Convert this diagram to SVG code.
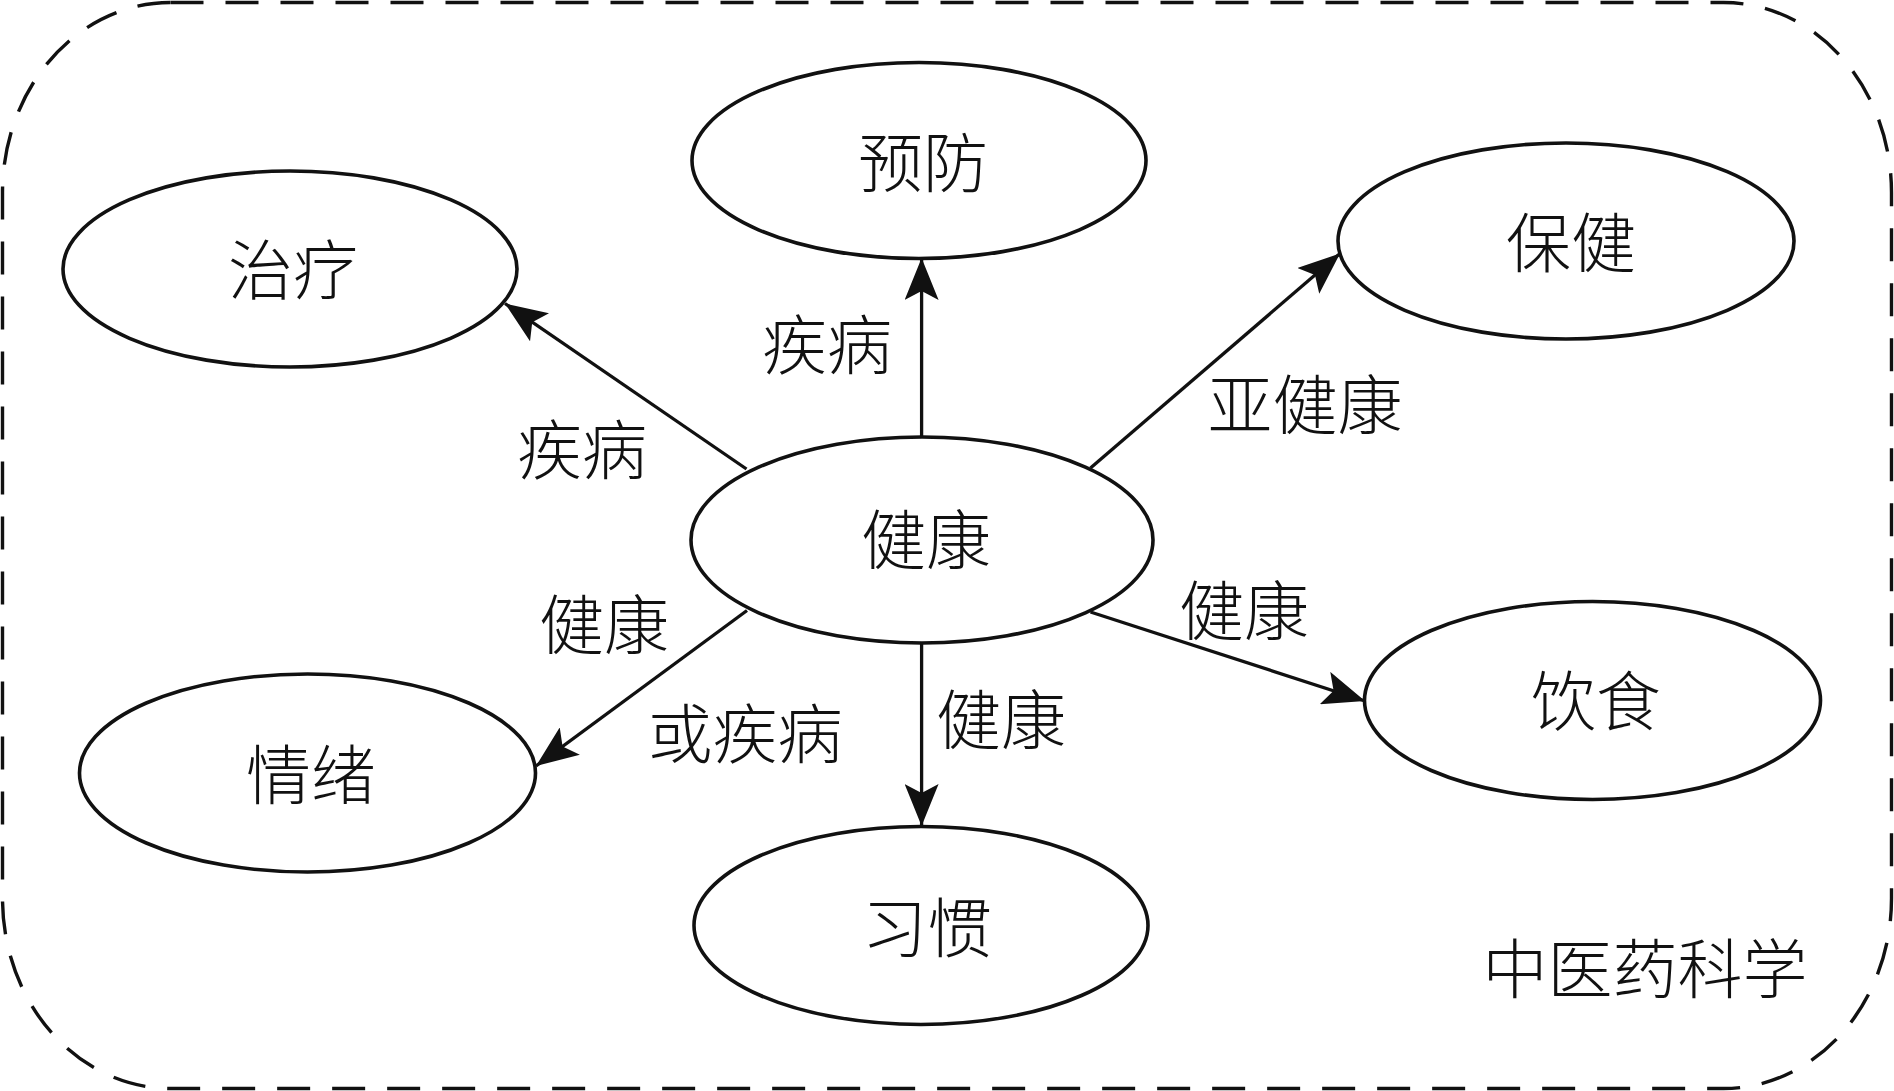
<svg xmlns="http://www.w3.org/2000/svg" width="1894" height="1091" viewBox="0 0 1894 1091">
<style>
.node{fill:#fff;stroke:#111;stroke-width:3.6}
.lbl{font-family:"Noto Sans CJK SC","Noto Sans CJK JP",sans-serif;font-size:65px;font-weight:300;fill:#111;text-anchor:middle}
.edge{stroke:#111;stroke-width:3.3;fill:none;marker-end:url(#arr)}
.frame{fill:none;stroke:#111;stroke-width:3.4;stroke-dasharray:33 22}
</style>
<defs>
<marker id="arr" markerUnits="userSpaceOnUse" viewBox="0 0 42 34" markerWidth="42" markerHeight="34" refX="42" refY="17" orient="auto">
<path d="M42,17 L0,0 L9,17 L0,34 Z" fill="#111"/>
</marker>
</defs>
<rect class="frame" x="2.5" y="2.5" width="1889" height="1086" rx="168" ry="190"/>
<g id="connectors">
<line class="edge" x1="921.6" y1="437" x2="921.6" y2="258"/>
<line class="edge" x1="746.5" y1="469" x2="505" y2="303.5"/>
<line class="edge" x1="1090.5" y1="468" x2="1340" y2="253.5"/>
<line class="edge" x1="1090.5" y1="612" x2="1365" y2="701"/>
<line class="edge" x1="747" y1="610.5" x2="536" y2="766"/>
<line class="edge" x1="921.6" y1="643" x2="921.6" y2="826"/>
<text class="lbl" x="827" y="369">疾病</text>
<text class="lbl" x="582" y="474">疾病</text>
<text class="lbl" x="1305" y="429">亚健康</text>
<text class="lbl" x="1244" y="635">健康</text>
<text class="lbl" x="604" y="649">健康</text>
<text class="lbl" x="745" y="758">或疾病</text>
<text class="lbl" x="1001" y="744">健康</text>
</g>
<g id="node-yufang"><ellipse class="node" cx="919" cy="160.5" rx="227" ry="98"/><text class="lbl" x="923" y="187">预防</text></g>
<g id="node-zhiliao"><ellipse class="node" cx="290" cy="269" rx="227" ry="98"/><text class="lbl" x="293" y="294">治疗</text></g>
<g id="node-baojian"><ellipse class="node" cx="1566" cy="241" rx="228" ry="98"/><text class="lbl" x="1571" y="267">保健</text></g>
<g id="node-jiankang"><ellipse class="node" cx="922" cy="540" rx="231" ry="103"/><text class="lbl" x="926" y="564">健康</text></g>
<g id="node-yinshi"><ellipse class="node" cx="1592.5" cy="700.5" rx="228" ry="99"/><text class="lbl" x="1596" y="725">饮食</text></g>
<g id="node-qingxu"><ellipse class="node" cx="307.5" cy="773" rx="228" ry="99"/><text class="lbl" x="311" y="799">情绪</text></g>
<g id="node-xiguan"><ellipse class="node" cx="921" cy="925.5" rx="227" ry="99"/><text class="lbl" x="927" y="952">习惯</text></g>
<text id="title" class="lbl" x="1645" y="993">中医药科学</text>
</svg>
